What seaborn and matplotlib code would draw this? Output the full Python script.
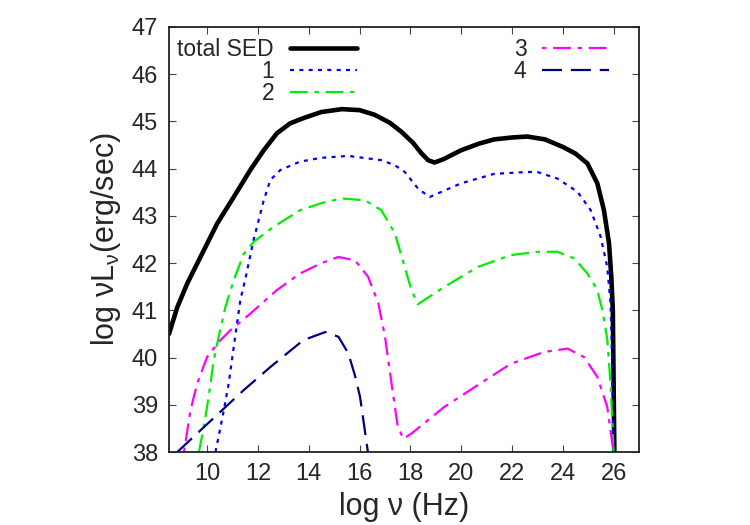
import matplotlib
matplotlib.use("Agg")
import matplotlib.pyplot as plt
import pandas as pd
import seaborn as sns

# total SED
tot_x = [8.5, 8.83, 9.22, 9.74, 10.4, 11.05, 11.7, 12.23, 12.75, 13.27, 13.79, 14.5, 15.3,
         16.0, 16.6, 17.2, 17.65, 18.1, 18.43, 18.7, 18.95, 19.3, 20.0, 20.7, 21.3, 22.0,
         22.6, 23.3, 24.0, 24.5, 24.97, 25.36, 25.62, 25.82, 25.91, 25.97, 26.0, 26.03]
tot_y = [40.5, 41.07, 41.57, 42.13, 42.84, 43.4, 43.97, 44.39, 44.75, 44.96, 45.07, 45.2, 45.26,
         45.24, 45.14, 44.97, 44.78, 44.55, 44.33, 44.18, 44.13, 44.2, 44.39, 44.53, 44.62, 44.66,
         44.68, 44.62, 44.46, 44.32, 44.11, 43.69, 43.12, 42.42, 41.71, 41.0, 39.5, 38.0]

# component 1
c1_x = [10.33, 10.5, 10.66, 10.85, 11.05, 11.31, 11.5, 11.83, 12.23, 12.49, 12.88, 13.66, 14.5,
        15.56, 16.86, 17.4, 17.78, 18.3, 18.76, 19.4, 20.0, 21.3, 22.6, 23.0, 23.79, 24.58,
        25.1, 25.49, 25.75, 25.88, 25.95, 26.0]
c1_y = [38.0, 38.45, 38.89, 39.45, 40.23, 41.22, 41.65, 42.49, 43.33, 43.76, 43.97, 44.15, 44.23,
        44.27, 44.18, 44.07, 43.93, 43.58, 43.4, 43.55, 43.69, 43.89, 43.93, 43.93, 43.79, 43.51,
        43.12, 42.56, 41.92, 41.15, 39.8, 38.0]

# component 2
c2_x = [9.68, 9.87, 10.07, 10.26, 10.5, 10.72, 11.05, 11.44, 11.83, 12.62, 13.66, 14.5, 15.3,
        16.21, 16.86, 17.39, 17.78, 18.04, 18.3, 19.35, 20.66, 21.96, 23.0, 23.79, 24.45, 24.97,
        25.36, 25.56, 25.75, 25.88, 26.0]
c2_y = [38.0, 38.53, 39.2, 39.94, 40.55, 41.07, 41.64, 42.19, 42.45, 42.77, 43.12, 43.27, 43.37,
        43.33, 43.12, 42.63, 41.92, 41.43, 41.13, 41.5, 41.92, 42.17, 42.24, 42.24, 42.1, 41.78,
        41.43, 41.0, 40.4, 39.45, 38.0]

# component 3
c3_x = [9.09, 9.35, 9.61, 10.0, 10.46, 10.92, 11.7, 12.75, 13.66, 14.5, 15.17, 15.82, 16.34,
        16.74, 17.0, 17.26, 17.5, 17.72, 18.04, 19.35, 20.66, 21.96, 23.27, 24.19, 24.84,
        25.36, 25.75, 25.95, 26.0]
c3_y = [38.0, 38.89, 39.45, 40.01, 40.33, 40.58, 40.93, 41.43, 41.78, 42.0, 42.13, 42.06, 41.71,
        41.15, 40.45, 39.45, 38.56, 38.28, 38.39, 38.96, 39.42, 39.87, 40.12, 40.19, 40.01,
        39.59, 38.96, 38.18, 38.0]

# component 4
c4_x = [8.83, 9.74, 10.66, 11.44, 12.49, 13.79, 14.65, 15.17, 15.56, 15.82, 16.02, 16.33]
c4_y = [38.0, 38.46, 38.92, 39.31, 39.8, 40.37, 40.54, 40.44, 40.09, 39.62, 39.17, 38.0]

x_ticks = list(range(10, 27, 2))
y_ticks = list(range(38, 48))

sns.set_style("ticks")
plt.rcParams["font.family"] = ["Liberation Sans", "DejaVu Sans"]
plt.rcParams["mathtext.fontset"] = "custom"
plt.rcParams["mathtext.rm"] = "Liberation Sans"
plt.rcParams["mathtext.it"] = "Liberation Sans"

fig = plt.figure(figsize=(7.5, 5.25), dpi=100)
ax = fig.add_axes([0.2253, 0.139, 0.6267, 0.8096])

series = [
    ("total SED", tot_x, tot_y, "black", 3.3, "-"),
    ("1", c1_x, c1_y, "#0000ff", 1.6, (0, (1.8, 2.4))),
    ("2", c2_x, c2_y, "#00ee00", 1.6, (0, (8, 3, 2, 3))),
    ("3", c3_x, c3_y, "#ff00ff", 1.6, (0, (2, 3, 8, 3))),
    ("4", c4_x, c4_y, "#000080", 1.6, (0, (9, 4))),
]
handles = []
for name, xs, ys, col, lw, ls in series:
    df = pd.DataFrame({"x": xs, "y": ys})
    sns.lineplot(data=df, x="x", y="y", ax=ax, color=col, lw=lw, linestyle=ls,
                 sort=False, estimator=None, label=name, legend=False)
    handles.append(ax.lines[-1])

ax.set_xlim(8.5, 27)
ax.set_ylim(38, 47)
ax.set_xticks(x_ticks)
ax.set_yticks(y_ticks)
ax.tick_params(direction="in", length=5, width=0.8, labelsize=17, color="#444444",
               top=True, right=True, pad=8)
for sp in ax.spines.values():
    sp.set_linewidth(1.3)
    sp.set_color("#222222")

ax.set_xlabel("log ν (Hz)", fontsize=22, labelpad=5)
ax.set_ylabel("log νL$_{\\mathrm{ν}}$(erg/sec)", fontsize=22, labelpad=6)

leg_kw = dict(loc="upper right", frameon=False, markerfirst=False, fontsize=16.5,
              handlelength=2.9, handletextpad=0.7, labelspacing=-0.04,
              borderpad=0, borderaxespad=0)
leg1 = ax.legend(handles=handles[:3], labels=["total SED", "1", "2"],
                 bbox_to_anchor=(0.399, 0.975), **leg_kw)
ax.add_artist(leg1)
ax.legend(handles=handles[3:], labels=["3", "4"], bbox_to_anchor=(0.936, 0.975), **leg_kw)

fig.savefig("out.png", dpi=100)
